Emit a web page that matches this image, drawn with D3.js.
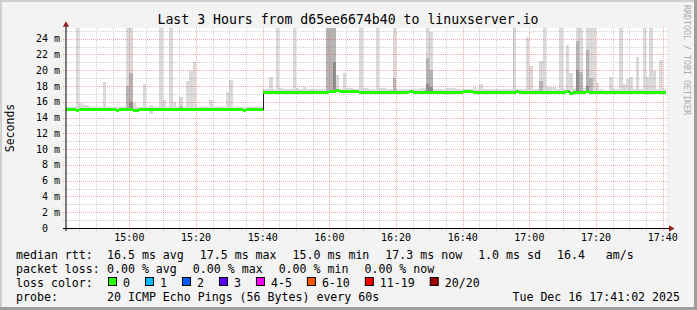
<!DOCTYPE html>
<html><head><meta charset="utf-8">
<script src="https://cdn.jsdelivr.net/npm/d3@7"></script>
<style>
html,body{margin:0;padding:0;background:#f3f3f3;}
svg{display:block;}
text{font-family:"DejaVu Sans Mono",monospace;white-space:pre;fill:#000;}
</style></head><body>
<svg id="c" width="697" height="310"></svg>
<script>
// ---------------- data ----------------
const titleText = "Last 3 Hours from d65ee6674b40 to linuxserver.io";
const yAxisTitle = "Seconds";
const sideText = "RRDTOOL / TOBI OETIKER";
const viewStart = new Date(2025, 11, 16, 14, 41, 12);
const viewEnd   = new Date(2025, 11, 16, 17, 41, 12);
const firstSample = new Date(2025, 11, 16, 14, 41, 0);
const yMax = 25.35;
const yTicks = [0, 2, 4, 6, 8, 10, 12, 14, 16, 18, 20, 22, 24];
const xTickLabels = ["15:00", "15:20", "15:40", "16:00", "16:20", "16:40", "17:00", "17:20", "17:40"];

// median rtt (ms), one value per minute
const median = [
15.1,15.1,15.1,15.0,15.1,15.1,15.1,15.1,15.1,15.1,
15.1,15.1,15.1,15.1,15.1,15.0,15.1,15.1,15.1,15.1,
15.0,15.0,15.1,15.1,15.1,15.1,15.1,15.1,15.1,15.1,
15.1,15.1,15.1,15.1,15.1,15.1,15.1,15.1,15.1,15.1,
15.1,15.1,15.1,15.1,15.1,15.1,15.1,15.1,15.1,15.1,
15.1,15.1,15.1,15.0,15.1,15.1,15.1,15.1,15.1,17.3,
17.3,17.3,17.3,17.3,17.3,17.3,17.3,17.3,17.3,17.3,
17.3,17.3,17.3,17.3,17.3,17.3,17.3,17.2,17.3,17.4,
17.4,17.5,17.4,17.4,17.4,17.4,17.4,17.4,17.3,17.3,
17.3,17.3,17.3,17.3,17.3,17.3,17.3,17.3,17.2,17.3,
17.3,17.3,17.3,17.4,17.3,17.3,17.3,17.3,17.3,17.3,
17.3,17.3,17.3,17.3,17.3,17.3,17.3,17.3,17.3,17.4,
17.4,17.4,17.3,17.3,17.3,17.3,17.3,17.3,17.3,17.3,
17.3,17.3,17.3,17.3,17.3,17.4,17.3,17.3,17.3,17.3,
17.3,17.3,17.3,17.3,17.3,17.3,17.3,17.3,17.3,17.3,
17.4,17.1,17.3,17.3,17.3,17.3,17.4,17.3,17.3,17.3,
17.2,17.2,17.3,17.3,17.3,17.3,17.3,17.3,17.3,17.3,
17.3,17.3,17.3,17.3,17.3,17.3,17.3,17.3,17.3,17.3
];
// highest ping of each minute (top of the smoke)
const smokeMax = [
15.4,15.4,15.4,25.4,15.8,15.6,15.6,15.4,15.4,15.3,
15.3,18.5,15.3,15.3,15.3,15.3,15.3,15.3,25.4,25.4,
15.8,15.3,15.3,18.3,15.3,15.6,15.3,15.3,25.4,16.2,
15.3,25.4,16.0,15.3,16.6,15.4,18.6,19.9,21.1,15.4,
15.3,15.3,15.3,16.2,15.3,15.3,15.3,15.3,17.2,18.7,
15.3,15.3,15.3,15.4,15.3,15.3,15.3,15.3,15.4,17.6,
17.6,19.2,17.6,25.4,17.7,17.6,17.6,17.6,25.4,17.7,
17.6,17.9,17.6,17.6,17.6,17.6,17.6,17.6,25.4,25.4,
25.4,19.4,17.6,19.6,17.8,17.7,17.6,17.6,25.4,17.8,
17.8,17.6,17.6,25.4,17.7,17.7,17.6,17.6,25.4,17.6,
17.6,17.6,17.6,17.6,17.6,17.6,17.8,17.8,25.4,24.8,
17.6,17.6,17.6,17.6,17.8,17.8,17.7,17.6,17.6,17.6,
17.6,17.6,17.9,17.6,18.2,17.6,17.6,17.6,17.6,17.6,
17.6,17.6,17.6,17.6,25.4,17.6,17.6,17.6,24.2,20.5,
17.6,17.6,21.2,25.4,17.9,17.9,17.9,17.6,25.4,17.6,
23.2,19.7,17.6,25.4,25.4,17.7,25.3,25.3,25.3,18.4,
17.6,17.5,17.5,19.2,17.6,17.6,25.4,18.2,18.9,19.1,
17.6,21.7,17.6,25.4,19.1,25.4,19.9,17.6,21.3,17.6
];
// lowest ping of each minute (bottom of the smoke)
const smokeMin = [
15.0,15.0,15.0,14.9,15.0,15.0,15.0,15.0,15.0,15.0,
15.0,15.0,15.0,15.0,15.0,14.9,15.0,15.0,15.0,15.0,
14.9,14.9,15.0,15.0,15.0,14.5,15.0,15.0,15.0,15.0,
15.0,15.0,15.0,15.0,15.0,15.0,15.0,15.0,15.0,15.0,
15.0,15.0,15.0,15.0,15.0,15.0,15.0,15.0,15.0,15.0,
15.0,15.0,15.0,14.9,15.0,15.0,15.0,15.0,15.0,17.2,
17.2,17.2,17.2,17.2,17.2,17.2,17.2,17.2,17.2,17.2,
17.2,17.2,17.2,17.2,17.2,17.2,17.2,17.1,17.2,17.3,
17.3,17.4,17.3,17.3,17.3,17.3,17.3,17.3,17.2,17.2,
17.2,17.2,17.2,17.2,17.2,17.2,17.2,17.2,17.1,17.2,
17.2,17.2,17.2,17.3,17.2,17.2,17.2,17.2,17.2,17.2,
17.2,17.2,17.2,17.2,17.2,17.2,17.2,17.2,17.2,17.3,
17.3,17.3,17.2,17.2,17.2,17.2,17.2,17.2,17.2,17.2,
17.2,17.2,17.2,17.2,17.2,17.3,17.2,17.2,17.2,17.2,
17.2,17.2,17.2,17.2,17.2,17.2,17.2,17.2,17.2,17.2,
17.3,17.0,17.2,17.2,17.2,17.2,17.3,17.2,17.2,17.2,
17.1,17.1,17.2,17.2,17.2,17.2,17.2,17.2,17.2,17.2,
17.2,17.2,17.2,17.2,17.2,17.2,17.2,17.2,17.2,17.2
];
// denser inner smoke (minute index, top value)
const midSmokeMinute = [18, 19, 34, 78, 79, 80, 98, 108, 109, 142, 153, 154, 156, 157];
const midSmokeTop    = [18.0, 19.7, 15.5, 25.4, 25.4, 25.4, 19.0, 21.5, 20.0, 18.6, 23.7, 19.8, 22.6, 19.0];
const darkSmokeMinute = [19, 80, 108, 109, 153, 156];
const darkSmokeTop    = [16.0, 21.1, 18.2, 17.9, 20.0, 18.0];

// legend
const rttTitle = "median rtt:";
const rttStats = ["16.5 ms avg", "17.5 ms max", "15.0 ms min", "17.3 ms now", "1.0 ms sd", "16.4   am/s"];
const lossTitle = "packet loss:";
const lossStats = ["0.00 % avg", "0.00 % max", "0.00 % min", "0.00 % now"];
const lossColorTitle = "loss color:";
const lossLabels = ["0", "1", "2", "3", "4-5", "6-10", "11-19", "20/20"];
const lossColors = ["#26ff00", "#00b8ff", "#0059ff", "#5e00ff", "#ff00ff", "#ff5500", "#ff0000", "#a00000"];
const probeTitle = "probe:";
const probeText = "20 ICMP Echo Pings (56 Bytes) every 60s";
const dateText = "Tue Dec 16 17:41:02 2025";

// ---------------- drawing ----------------
const W = 697, H = 310;
const svg = d3.select("#c");
const PL = 66.7, PR = 666.7, PT = 28, PB = 228;

// canvas + 3D frame
svg.append("rect").attr("x", 0).attr("y", 0).attr("width", W).attr("height", H).attr("fill", "#f3f3f3");
svg.append("rect").attr("x", 0).attr("y", 0).attr("width", W).attr("height", 2).attr("fill", "#cfcfcf");
svg.append("rect").attr("x", 0).attr("y", 0).attr("width", 2).attr("height", H).attr("fill", "#cfcfcf");
svg.append("rect").attr("x", W - 3).attr("y", 0).attr("width", 3).attr("height", H).attr("fill", "#9e9e9e");
svg.append("rect").attr("x", 0).attr("y", H - 3).attr("width", W).attr("height", 3).attr("fill", "#9e9e9e");

const x = d3.scaleTime().domain([viewStart, viewEnd]).range([PL, PR]);
const y = d3.scaleLinear().domain([0, yMax]).range([PB, PT]);
const ry = v => Math.round(y(v));

// plot background
svg.append("rect").attr("x", 66).attr("y", PT).attr("width", PR - 66).attr("height", PB - PT).attr("fill", "#ffffff");

const plot = svg.append("g").attr("shape-rendering", "crispEdges");
const colX0 = i => Math.max(66, Math.round(x(d3.timeMinute.offset(firstSample, i))));
const colX1 = i => Math.min(667, Math.round(x(d3.timeMinute.offset(firstSample, i + 1))));

// light smoke
plot.selectAll("rect.smoke").data(median).enter().append("rect")
  .attr("class", "smoke")
  .attr("x", (d, i) => colX0(i))
  .attr("width", (d, i) => colX1(i) - colX0(i))
  .attr("y", (d, i) => ry(smokeMax[i]))
  .attr("height", (d, i) => Math.max(0, ry(smokeMin[i]) - ry(smokeMax[i])))
  .attr("fill", "#dadada");

// medium smoke
plot.selectAll("rect.mid").data(midSmokeMinute).enter().append("rect")
  .attr("class", "mid")
  .attr("x", d => colX0(d))
  .attr("width", d => colX1(d) - colX0(d))
  .attr("y", (d, k) => ry(midSmokeTop[k]))
  .attr("height", (d, k) => ry(median[d]) - ry(midSmokeTop[k]))
  .attr("fill", "#b4b4b4");

// dark smoke
plot.selectAll("rect.dark").data(darkSmokeMinute).enter().append("rect")
  .attr("class", "dark")
  .attr("x", d => colX0(d))
  .attr("width", d => colX1(d) - colX0(d))
  .attr("y", (d, k) => ry(darkSmokeTop[k]))
  .attr("height", (d, k) => ry(median[d]) - ry(darkSmokeTop[k]))
  .attr("fill", "#8e8e8e");

// grid
const grid = svg.append("g");
const minorTimes = x.ticks(d3.timeMinute.every(5)).filter(t => t.getMinutes() % 20 !== 0);
const majorTimes = xTickLabels.map(s => { const p = s.split(":"); return new Date(2025, 11, 16, +p[0], +p[1]); });
const yMinor = d3.range(1, 26).filter(v => v % 2 === 1 && v <= yMax);
const yMajor = yTicks.filter(v => v > 0);
const gridMinor = "rgba(140,140,140,0.42)", gridMajor = "rgba(230,70,70,0.45)";
grid.selectAll("line.hmin").data(yMinor).enter().append("line")
  .attr("x1", 63).attr("x2", 669)
  .attr("y1", d => ry(d) + 0.5).attr("y2", d => ry(d) + 0.5)
  .attr("stroke", gridMinor).attr("stroke-dasharray", "1,1");
grid.selectAll("line.vmin").data(minorTimes).enter().append("line")
  .attr("y1", PT).attr("y2", PB + 3)
  .attr("x1", d => Math.round(x(d)) + 0.5).attr("x2", d => Math.round(x(d)) + 0.5)
  .attr("stroke", gridMinor).attr("stroke-dasharray", "1,1");
grid.selectAll("line.hmaj").data(yMajor).enter().append("line")
  .attr("x1", 63).attr("x2", 669)
  .attr("y1", d => ry(d) + 0.5).attr("y2", d => ry(d) + 0.5)
  .attr("stroke", gridMajor).attr("stroke-dasharray", "1,1");
grid.selectAll("line.vmaj").data(majorTimes).enter().append("line")
  .attr("y1", PT).attr("y2", PB + 3)
  .attr("x1", d => Math.round(x(d)) + 0.5).attr("x2", d => Math.round(x(d)) + 0.5)
  .attr("stroke", gridMajor).attr("stroke-dasharray", "1,1");

// median: thin dark step line, then green loss-colour segments
const stepPts = median.map((v, i) => [colX0(i), ry(v) + 0.5]);
stepPts.push([colX1(median.length - 1), ry(median[median.length - 1]) + 0.5]);
svg.append("path")
  .attr("d", d3.line().curve(d3.curveStepAfter)(stepPts))
  .attr("fill", "none").attr("stroke", "#202020").attr("stroke-width", 1)
  .attr("shape-rendering", "crispEdges");
svg.append("g").attr("shape-rendering", "crispEdges")
  .selectAll("rect.med").data(median).enter().append("rect")
  .attr("class", "med")
  .attr("x", (d, i) => colX0(i)).attr("width", (d, i) => colX1(i) - colX0(i))
  .attr("y", d => ry(d) - 1).attr("height", 3)
  .attr("fill", lossColors[0]);

// axes
svg.append("line").attr("x1", 66).attr("x2", 66).attr("y1", PB + 3).attr("y2", 26)
  .attr("stroke", "#000").attr("stroke-width", 1);
svg.append("line").attr("x1", 63).attr("x2", 670).attr("y1", 228.5).attr("y2", 228.5)
  .attr("stroke", "#000").attr("stroke-width", 1);
svg.append("path").attr("d", "M62.8,26.8L69.2,26.8L66,21.2Z").attr("fill", "#952020");
svg.append("path").attr("d", "M669,225.3L669,231.7L674.6,228.5Z").attr("fill", "#952020");

// y tick labels
svg.selectAll("text.yl").data(yTicks).enter().append("text")
  .attr("x", 60).attr("y", d => y(d) + 3.6)
  .attr("text-anchor", "end").attr("font-size", "10px")
  .text(d => d === 0 ? "0  " : d + " m");
// x tick labels
svg.selectAll("text.xl").data(majorTimes).enter().append("text")
  .attr("x", d => x(d)).attr("y", 241)
  .attr("text-anchor", "middle").attr("font-size", "10px")
  .text((d, i) => xTickLabels[i]);

// title
svg.append("text").attr("x", 348).attr("y", 24).attr("text-anchor", "middle")
  .attr("font-size", "13.2px").text(titleText);
// y axis title
svg.append("text").attr("transform", "translate(14,128) rotate(-90)")
  .attr("text-anchor", "middle").attr("font-size", "11.5px").text(yAxisTitle);
// side watermark
svg.append("text").attr("transform", "translate(684,60) rotate(90)")
  .attr("text-anchor", "middle").attr("font-size", "8.3px").attr("style", "fill:#ababab").text(sideText);

// legend
const LF = "11.6px", GAP = 16, COL = 107;
function row(label, items, yb) {
  svg.append("text").attr("x", 16).attr("y", yb).attr("font-size", LF).text(label);
  let cx = COL;
  items.forEach(s => {
    const t = svg.append("text").attr("x", cx).attr("y", yb).attr("font-size", LF).text(s);
    cx += t.node().getComputedTextLength() + GAP;
  });
}
row(rttTitle, rttStats, 258.5);
row(lossTitle, lossStats, 272.5);

// loss colours
svg.append("text").attr("x", 16).attr("y", 286.5).attr("font-size", LF).text(lossColorTitle);
let bx = 108;
lossLabels.forEach((lab, i) => {
  svg.append("rect").attr("x", bx + 0.5).attr("y", 277.5).attr("width", 8).attr("height", 8)
    .attr("fill", lossColors[i]).attr("stroke", "#000").attr("stroke-width", 1);
  const t = svg.append("text").attr("x", bx + 15).attr("y", 286.5).attr("font-size", LF).text(lab);
  bx = bx + 15 + t.node().getComputedTextLength() + 15;
});

// probe row
svg.append("text").attr("x", 16).attr("y", 300.5).attr("font-size", LF).text(probeTitle);
svg.append("text").attr("x", COL).attr("y", 300.5).attr("font-size", LF).text(probeText);
svg.append("text").attr("x", 680).attr("y", 300.5).attr("text-anchor", "end").attr("font-size", LF).text(dateText);
</script>
</body></html>
